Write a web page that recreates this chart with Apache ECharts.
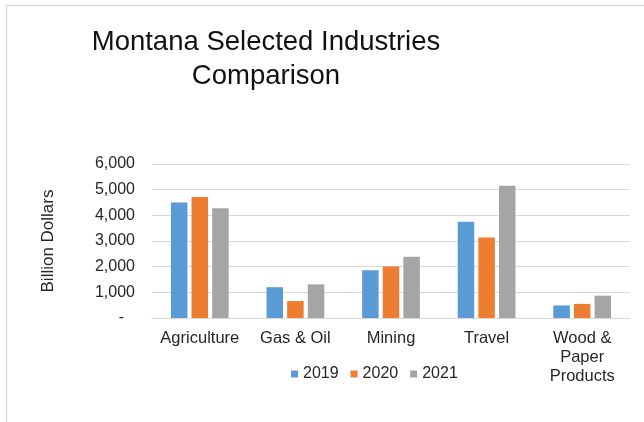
<!DOCTYPE html>
<html>
<head>
<meta charset="utf-8">
<script src="https://cdn.jsdelivr.net/npm/echarts@6/dist/echarts.min.js"></script>
<style>
  html, body { margin: 0; padding: 0; background: #fff; }
  #chart { width: 644px; height: 422px; }
</style>
</head>
<body>
<div id="chart"></div>
<script>
const categories = ['Agriculture', 'Gas & Oil', 'Mining', 'Travel', 'Wood &\nPaper\nProducts']
const years = ['2019', '2020', '2021']
const values2019 = [4500, 1200, 1860, 3750, 490]
const values2020 = [4710, 660, 2010, 3140, 550]
const values2021 = [4280, 1310, 2390, 5150, 870]
const colors = ['#5b9bd5', '#ed7d31', '#a5a5a5']

const font = 'Liberation Sans, Arial, sans-serif'

const chart = echarts.init(document.getElementById('chart'))

const makeSeries = (name, data, color) => ({
  name,
  type: 'bar',
  data,
  barWidth: 16.5,
  barGap: '25%',
  itemStyle: { color },
  emphasis: { disabled: true },
})

chart.setOption({
  animation: false,
  backgroundColor: '#fff',
  textStyle: { fontFamily: font },
  title: {
    text: 'Montana Selected Industries\nComparison',
    left: 266,
    top: 25,
    padding: 0,
    textAlign: 'center',
    textStyle: {
      fontFamily: font,
      fontWeight: 'normal',
      fontSize: 27.5,
      lineHeight: 34,
      color: '#111',
    },
  },
  graphic: [
    {
      type: 'rect',
      silent: true,
      shape: { x: 6.5, y: 5.5, width: 700, height: 500 },
      style: { fill: 'none', stroke: '#d9d9d9', lineWidth: 1.5 },
    },
  ],
  legend: {
    data: years,
    left: 291,
    top: 366,
    padding: 0,
    icon: 'rect',
    itemWidth: 7,
    itemHeight: 7,
    itemGap: 12,
    textStyle: { fontFamily: font, fontSize: 16, color: '#262626' },
  },
  grid: {
    left: 152,
    right: 14,
    top: 164,
    bottom: 104,
  },
  xAxis: {
    type: 'category',
    data: categories,
    axisTick: { show: false },
    axisLine: { lineStyle: { color: '#d9d9d9', width: 1 } },
    axisLabel: {
      interval: 0,
      margin: 11,
      fontFamily: font,
      fontSize: 16.5,
      lineHeight: 19,
      color: '#262626',
    },
  },
  yAxis: {
    type: 'value',
    min: 0,
    max: 6000,
    interval: 1000,
    name: 'Billion Dollars',
    nameLocation: 'middle',
    nameRotate: 90,
    nameGap: 95,
    nameTextStyle: { fontFamily: font, fontSize: 17, color: '#262626' },
    axisLine: { show: false },
    axisTick: { show: false },
    splitLine: { lineStyle: { color: '#d9d9d9', width: 1 } },
    axisLabel: {
      margin: 17,
      fontFamily: font,
      fontSize: 16,
      color: '#262626',
      formatter: (v) => (v === 0 ? '{z|-}' : v.toLocaleString('en-US')),
      rich: {
        z: { padding: [0, 11, 0, 0], fontSize: 16, color: '#262626' },
      },
    },
  },
  series: [
    makeSeries(years[0], values2019, colors[0]),
    makeSeries(years[1], values2020, colors[1]),
    makeSeries(years[2], values2021, colors[2]),
  ],
})
</script>
</body>
</html>
